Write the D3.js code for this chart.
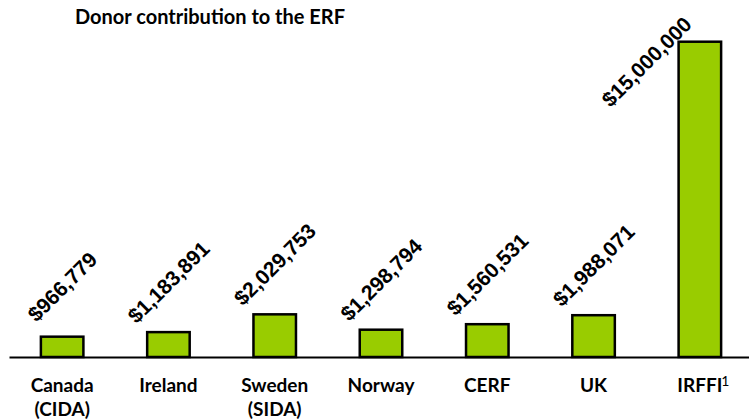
<!DOCTYPE html>
<html>
<head>
<meta charset="utf-8">
<script src="https://cdn.jsdelivr.net/npm/d3@7"></script>
<style>
  body { margin: 0; background: #fff; }
  svg { display: block; }
</style>
</head>
<body>
<script>
// Data
const donors = ["Canada (CIDA)", "Ireland", "Sweden (SIDA)", "Norway", "CERF", "UK", "IRFFI"];
const amounts = [966779, 1183891, 2029753, 1298794, 1560531, 1988071, 15000000];
const footnotes = ["", "", "", "", "", "", "1"];

const width = 749, height = 420;
const baseY = 357;
const plot = { top: 15, right: 693 };

const svg = d3.select("body").append("svg")
    .attr("width", width)
    .attr("height", height);

// Scales
const xScale = d3.scaleBand()
    .domain(donors)
    .range([9, 753])
    .paddingInner(0.6)
    .paddingOuter(0.3);

const yScale = d3.scaleLinear()
    .domain([0, 15000000])
    .range([baseY, 41.7]);

const fmt = d3.format("$,");

// Title
svg.append("text")
    .attr("x", 210)
    .attr("y", 24)
    .attr("text-anchor", "middle")
    .style("font-family", "Lato, 'Open Sans', sans-serif")
    .style("font-size", "20px")
    .style("font-weight", "bold")
    .text("Donor contribution to the ERF");

// Bars
svg.selectAll("rect.bar")
    .data(donors)
    .join("rect")
    .attr("class", "bar")
    .attr("x", d => xScale(d))
    .attr("y", (d, i) => yScale(amounts[i]))
    .attr("width", xScale.bandwidth())
    .attr("height", (d, i) => baseY - yScale(amounts[i]))
    .attr("fill", "#99cc00")
    .attr("stroke", "#000")
    .attr("stroke-width", 2.5);

// Axis
const xAxis = svg.append("g")
    .attr("transform", `translate(0,${baseY})`)
    .call(d3.axisBottom(xScale).tickSize(0).tickSizeOuter(0));

xAxis.select(".domain")
    .attr("stroke", "#000")
    .attr("stroke-width", 2);

xAxis.selectAll(".tick text").each(function(d, i) {
    const t = d3.select(this);
    const parts = d.split(" ");
    t.text(null)
        .attr("y", 0)
        .attr("dy", null)
        .attr("fill", "#000")
        .style("font-family", "Lato, 'Open Sans', sans-serif")
        .style("font-size", "19px")
        .style("font-weight", "bold");
    parts.forEach((p, k) => {
        t.append("tspan")
            .attr("x", 0)
            .attr("y", 35 + k * 24)
            .text(p);
    });
    if (footnotes[i]) {
        // superscript mark just after the name
        const w = t.select("tspan").node().getComputedTextLength();
        d3.select(this.parentNode).append("text")
            .attr("x", w / 2 + 3)
            .attr("y", 29)
            .attr("fill", "#000")
            .style("font-family", "Lato, 'Open Sans', sans-serif")
            .style("font-size", "14px")
            .text(footnotes[i]);
    }
});

// Value labels, rotated and kept inside the plot area
const labelSize = 21;
donors.forEach((d, i) => {
    const cx = xScale(d) + xScale.bandwidth() / 2;
    const cy = yScale(amounts[i]) - 50;
    const label = svg.append("text")
        .attr("text-anchor", "middle")
        .attr("dominant-baseline", "central")
        .style("font-family", "'Liberation Sans', Arial, sans-serif")
        .style("font-size", labelSize + "px")
        .style("font-weight", "bold")
        .text(fmt(amounts[i]));
    const box = label.node().getBBox();
    const half = 0.707 * (box.width + labelSize * 0.72) / 2;
    const x = Math.min(cx, plot.right - half);
    const y = Math.max(cy, plot.top + half);
    label.attr("transform", `translate(${x},${y}) rotate(-45)`);
});
</script>
</body>
</html>
